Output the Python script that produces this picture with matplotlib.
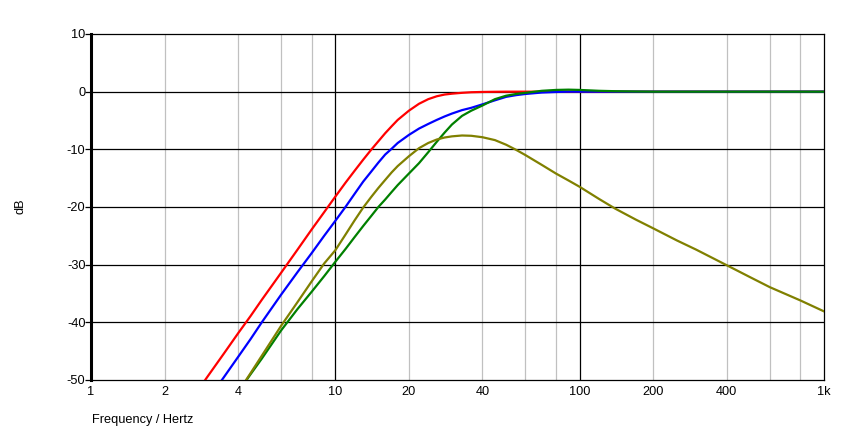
"""Highpass / bandpass magnitude responses on a log frequency axis."""
import matplotlib
matplotlib.use("Agg")
import matplotlib.pyplot as plt

plt.rcParams["font.family"] = ["Liberation Sans", "DejaVu Sans"]
plt.rcParams["axes.unicode_minus"] = False

# frequency points (Hz) shared by all four traces
freq = [2.5, 3, 3.5, 4, 4.5, 5, 6, 7, 8, 9, 10, 11, 12, 13, 14, 15, 16, 17, 18,
        20, 22, 24, 26, 28, 30, 33, 36, 40, 45, 50, 55, 60, 70, 80, 90, 100,
        120, 140, 170, 200, 250, 300, 400, 500, 600, 800, 1000]

red_db = [-54.2, -49.4, -45.4, -41.9, -38.9, -36.1, -31.4, -27.4, -23.9, -20.9,
          -18.2, -15.8, -13.7, -11.8, -10.1, -8.6, -7.2, -6.0, -4.9,
          -3.3, -2.1, -1.3, -0.8, -0.5, -0.35, -0.2, -0.1, -0.05, -0.02, 0, 0,
          0, 0, 0, 0, 0, 0, 0, 0, 0, 0, 0, 0, 0, 0, 0, 0]

blue_db = [-58.0, -53.5, -49.5, -46.0, -42.9, -40.0, -35.2, -31.3, -28.0, -25.0,
           -22.4, -20.0, -17.7, -15.6, -13.9, -12.3, -10.9, -9.9, -8.9,
           -7.5, -6.4, -5.6, -4.9, -4.3, -3.8, -3.2, -2.8, -2.2, -1.5, -0.9, -0.6,
           -0.4, -0.15, -0.05, 0, 0, 0, 0, 0, 0, 0, 0, 0, 0, 0, 0, 0]

green_db = [-64.0, -59.6, -55.6, -52.1, -49.0, -46.3, -41.4, -37.7, -34.7, -32.0,
            -29.5, -27.3, -25.2, -23.3, -21.6, -20.0, -18.7, -17.4, -16.2,
            -14.2, -12.4, -10.5, -8.7, -7.1, -5.7, -4.2, -3.3, -2.4, -1.3, -0.7, -0.4,
            -0.2, 0.15, 0.3, 0.35, 0.3, 0.15, 0.08, 0.03, 0, 0, 0, 0, 0, 0, 0, 0]

olive_db = [-64.0, -59.5, -55.4, -52.1, -48.8, -45.8, -40.6, -36.5, -32.9, -29.8,
            -27.5, -24.8, -22.3, -20.1, -18.3, -16.7, -15.3, -14.0, -12.9,
            -11.2, -9.8, -8.9, -8.3, -7.95, -7.75, -7.6, -7.65, -7.9, -8.4, -9.2, -10.1,
            -11.0, -12.7, -14.2, -15.4, -16.5, -18.6, -20.3, -22.2, -23.7, -25.8,
            -27.4, -30.1, -32.2, -33.9, -36.2, -38.1]

x_ticks = [1, 2, 4, 10, 20, 40, 100, 200, 400, 1000]
x_tick_labels = ["1", "2", "4", "10", "20", "40", "100", "200", "400", "1k"]
y_ticks = [-50, -40, -30, -20, -10, 0, 10]

W, H = 841, 438
fig = plt.figure(figsize=(W / 100, H / 100), dpi=100)
fig.patch.set_facecolor("white")
ax = fig.add_axes([91 / W, 1 - 380 / H, (824 - 91) / W, 346 / H])

ax.set_xscale("log")
ax.set_xlim(1, 1000)
ax.set_ylim(-50, 10)

# grid: grey at 2,4,6,8 per decade, black at decades and every 10 dB
for dec in (1, 10, 100):
    for m in (2, 4, 6, 8):
        ax.axvline(dec * m, color="#c0c0c0", lw=0.9, zorder=1)
for dec in (10, 100):
    ax.axvline(dec, color="black", lw=0.9, zorder=1.5)
for yv in y_ticks[1:-1]:
    ax.axhline(yv, color="black", lw=0.9, zorder=1.5)

ax.plot(freq, red_db, color="#ff0000", lw=1.6, zorder=3)
ax.plot(freq, blue_db, color="#0000ff", lw=1.6, zorder=3)
ax.plot(freq, green_db, color="#008000", lw=1.6, zorder=3)
ax.plot(freq, olive_db, color="#808000", lw=1.6, zorder=3)

ax.xaxis.set_minor_locator(matplotlib.ticker.NullLocator())
ax.set_xticks(x_ticks)
ax.set_xticklabels(x_tick_labels)
ax.set_yticks(y_ticks)
ax.tick_params(axis="x", length=0, pad=4, labelsize=9.2, colors="black")
ax.tick_params(axis="y", length=4, width=0.9, pad=0, labelsize=9.2, colors="black")

for side in ("top", "right", "bottom"):
    ax.spines[side].set_linewidth(0.9)
    ax.spines[side].set_color("black")
ax.spines["left"].set_linewidth(2.2)
ax.spines["left"].set_zorder(5)

fig.text(92 / W, 1 - 420 / H, "Frequency / Hertz", ha="left", va="center", fontsize=9.2)
fig.text(20 / W, 1 - 206 / H, "dB", ha="center", va="center", rotation=90, fontsize=9.2)

fig.savefig("out.png", dpi=100, facecolor="white")
